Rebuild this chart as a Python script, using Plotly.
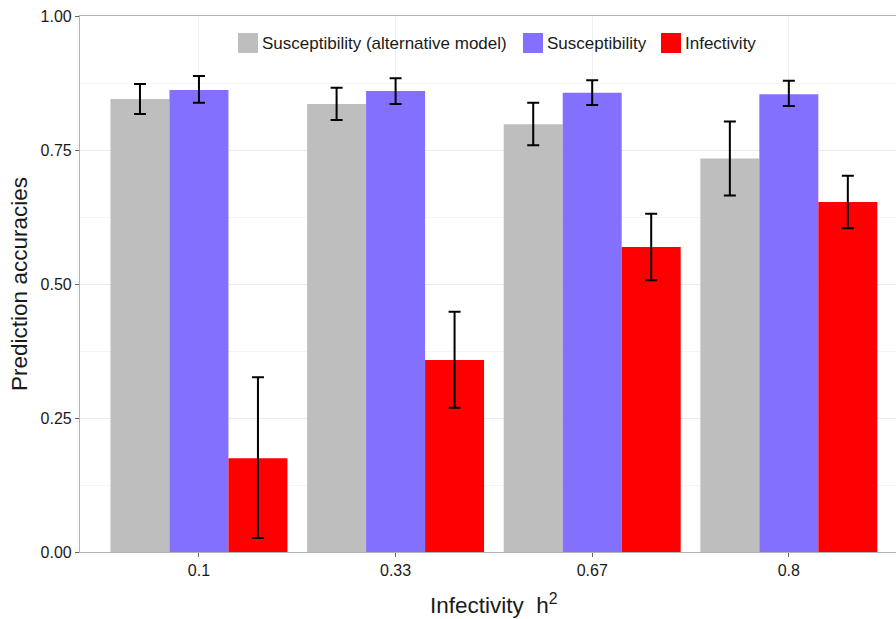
import plotly.graph_objects as go

categories = ["0.1", "0.33", "0.67", "0.8"]
series_names = ["Susceptibility (alternative model)", "Susceptibility", "Infectivity"]
alt_vals = [0.845, 0.836, 0.798, 0.734]
alt_hi = [0.873, 0.866, 0.838, 0.803]
alt_lo = [0.817, 0.806, 0.759, 0.665]
sus_vals = [0.862, 0.860, 0.857, 0.854]
sus_hi = [0.888, 0.884, 0.880, 0.879]
sus_lo = [0.838, 0.836, 0.834, 0.832]
inf_vals = [0.175, 0.358, 0.569, 0.653]
inf_hi = [0.326, 0.448, 0.631, 0.702]
inf_lo = [0.026, 0.269, 0.507, 0.604]
colors = ["#BEBEBE", "#8470FF", "#FF0000"]

# legend layout (pixel positions of the key boxes, left edge)
legend_box_px = [238, 523, 661]

W, H = 896, 619
ML, MR, MT, MB = 80, 0, 16, 67
PW, PH = W - ML - MR, H - MT - MB


def px_x(px):
    return (px - ML) / PW


def px_y(py):
    return (H - MB - py) / PH


fig = go.Figure()
data = [(alt_vals, alt_hi, alt_lo), (sus_vals, sus_hi, sus_lo), (inf_vals, inf_hi, inf_lo)]
for name, (v, hi, lo), c in zip(series_names, data, colors):
    fig.add_trace(go.Bar(
        x=categories, y=v, name=name, marker_color=c, marker_line_width=0,
        showlegend=False,
        error_y=dict(type="data", symmetric=False,
                     array=[h - a for h, a in zip(hi, v)],
                     arrayminus=[a - l for a, l in zip(v, lo)],
                     color="black", thickness=2, width=6),
    ))

# custom legend (keys + labels)
for name, c, bx in zip(series_names, colors, legend_box_px):
    fig.add_shape(type="rect", xref="paper", yref="paper",
                  x0=px_x(bx), x1=px_x(bx + 20), y0=px_y(53), y1=px_y(33),
                  fillcolor=c, line=dict(width=0), layer="above")
    fig.add_annotation(xref="paper", yref="paper", x=px_x(bx + 22), y=px_y(43),
                       xanchor="left", yanchor="middle", showarrow=False,
                       text=name, font=dict(size=17, color="#1a1a1a"))

# x-axis title (centred on the full, partly cropped panel)
fig.add_annotation(xref="paper", yref="paper", x=px_x(494), y=px_y(604),
                   xanchor="center", yanchor="middle", showarrow=False,
                   text="Infectivity  h<sup>2</sup>", font=dict(size=22.5, color="#1a1a1a"))

font = "Liberation Sans, Arial, sans-serif"
fig.update_layout(
    width=W, height=H,
    margin=dict(l=ML, r=MR, t=MT, b=MB),
    paper_bgcolor="white", plot_bgcolor="white",
    barmode="group", bargap=0.1, bargroupgap=0,
    showlegend=False,
    font=dict(family=font, color="#1a1a1a", size=16),
    xaxis=dict(
        type="category", range=[-0.605, 3.545],
        showline=True, linecolor="#B3B3B3", linewidth=1.2, mirror=True,
        ticks="outside", ticklen=4, tickcolor="#666666",
        showgrid=True, gridcolor="#EFEFEF", gridwidth=1,
        tickfont=dict(size=16, color="#1a1a1a"),
        zeroline=False,
    ),
    yaxis=dict(
        range=[0, 1], tickvals=[0, 0.25, 0.5, 0.75, 1.0],
        ticktext=["0.00", "0.25", "0.50", "0.75", "1.00"],
        showline=True, linecolor="#B3B3B3", linewidth=1.2,
        ticks="outside", ticklen=4, tickcolor="#666666",
        showgrid=True, gridcolor="#EBEBEB", gridwidth=1,
        minor=dict(dtick=0.125, tick0=0, showgrid=True, gridcolor="#F5F5F5", gridwidth=1, ticks=""),
        tickfont=dict(size=16, color="#1a1a1a"),
        title=dict(text="Prediction accuracies", font=dict(size=22.5, color="#1a1a1a"), standoff=6),
        zeroline=False,
    ),
)

fig.write_html("out.html")
